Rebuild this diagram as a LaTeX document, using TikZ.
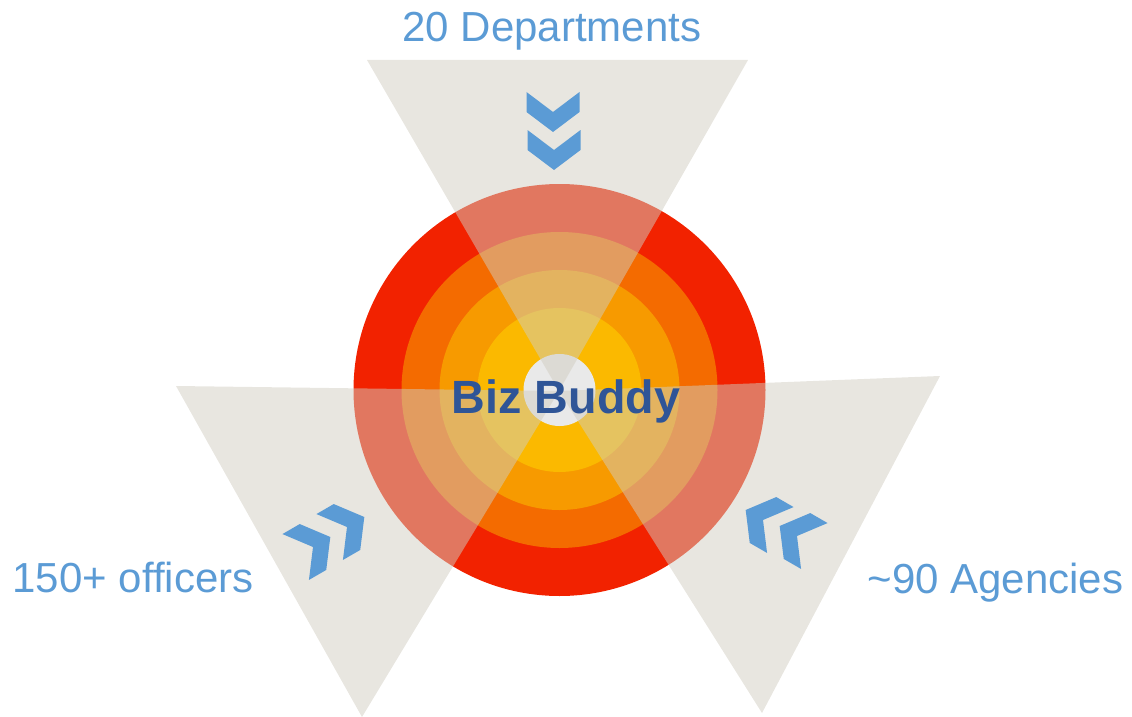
\documentclass[tikz,border=0pt]{standalone}
\usepackage{fontspec}
\setmainfont{Liberation Sans}[Ligatures=NoCommon]
\definecolor{cRed}{HTML}{F22200}
\definecolor{cOrangeRed}{HTML}{F46B00}
\definecolor{cOrange}{HTML}{F79A00}
\definecolor{cYellow}{HTML}{FBB900}
\definecolor{cCore}{HTML}{E9E9E9}
\definecolor{triGray}{HTML}{D1CDC1}
\definecolor{lblBlue}{HTML}{5B9BD5}
\definecolor{titleBlue}{HTML}{2F5597}
\begin{document}
\begin{tikzpicture}[x=0.75pt,y=-0.75pt,
  tri/.style={fill=triGray,fill opacity=0.5},
  lbl/.style={text=lblBlue,font=\fontsize{31.5}{36}\selectfont,anchor=base,inner sep=0pt},
  title/.style={text=titleBlue,font=\bfseries\fontsize{35}{40}\selectfont,anchor=base,inner sep=0pt},
  chev/.pic={\fill[lblBlue] (-26.5,-20) -- (0,0) -- (26.5,-20) -- (26.5,0) -- (0,20) -- (-26.5,0) -- cycle;}
]
\useasboundingbox (0,0) rectangle (1132,717);
\coordinate (c) at (559.5,390);
% concentric rings
\fill[cRed] (c) circle (206);
\fill[cOrangeRed] (c) circle (158);
\fill[cOrange] (c) circle (120);
\fill[cYellow] (c) circle (82);
\fill[cCore] (c) circle (36);
% translucent triangles
\coordinate (apex) at (559,391);
\fill[tri] (367,60) -- (748,60) -- (apex) -- cycle;
\fill[tri] (176,386) -- (362,717) -- (apex) -- cycle;
\fill[tri] (940,376) -- (762,713) -- (apex) -- cycle;
% chevrons
\pic at (553,112) {chev};
\pic at (554,150) {chev};
\pic[rotate=120] at (313,547) {chev};
\pic[rotate=120] at (347,527) {chev};
\pic[rotate=-120] at (763,520) {chev};
\pic[rotate=-120] at (797,536) {chev};
% texts
\node[title] (biz) at (566,413) {Biz Buddy};
\node[lbl] (dep) at (552,42) {20 Departments};
\node[lbl] (off) at (133,592) {150+ officers};
\node[lbl] (agn) at (995.5,593) {\textasciitilde 90 Agencies};
\end{tikzpicture}
\end{document}
